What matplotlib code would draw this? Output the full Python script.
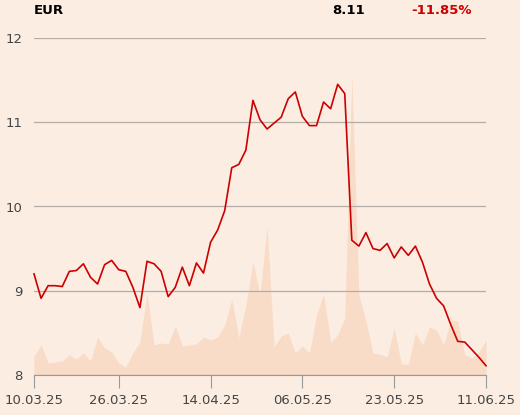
import numpy as np
import pandas as pd
import matplotlib
matplotlib.use('Agg')
import matplotlib.pyplot as plt

### DATA
# Trading days (Xetra calendar, Easter + 1 May closed)
holidays = ['2025-04-18', '2025-04-21', '2025-05-01']
dates = pd.bdate_range('2025-03-10', '2025-06-11')
dates = dates[~dates.isin(pd.to_datetime(holidays))]

price = [
    9.20, 8.91, 9.06, 9.06, 9.05, 9.23, 9.24, 9.32, 9.16, 9.08,
    9.31, 9.36, 9.25, 9.23, 9.04, 8.80, 9.35, 9.32, 9.23, 8.93,
    9.04, 9.28, 9.06, 9.33, 9.21, 9.575, 9.72, 9.95, 10.46, 10.50,
    10.67, 11.26, 11.03, 10.92, 10.99, 11.06, 11.28, 11.36, 11.07, 10.96,
    10.96, 11.24, 11.16, 11.45, 11.34, 9.60, 9.53, 9.69, 9.50, 9.48,
    9.56, 9.39, 9.52, 9.42, 9.53, 9.34, 9.08, 8.91, 8.82, 8.60,
    8.40, 8.39, 8.30, 8.21, 8.11,
]

# Volume (relative units)
volume = [
    19, 30, 12, 13, 14, 20, 16, 22, 14, 38,
    27, 23, 12, 8, 22, 33, 82, 30, 32, 31,
    49, 29, 30, 31, 38, 35, 38, 50, 76, 37,
    70, 113, 80, 149, 28, 39, 42, 22, 29, 22,
    60, 81, 33, 40, 57, 300, 80, 54, 22, 21,
    18, 47, 11, 11, 42, 30, 48, 45, 30, 55,
    54, 20, 17, 23, 35,
]

tick_dates = ['10.03.25', '26.03.25', '14.04.25', '06.05.25', '23.05.25', '11.06.25']
currency = 'EUR'
last_price = '8.11'
change = '-11.85%'

### STYLE
BG = '#fbede2'
VOL_COLOR = '#f8dcc7'
LINE_COLOR = '#cc0000'
GRID_COLOR = '#b3aca7'
TEXT_COLOR = '#444444'

### PLOTTING
fig = plt.figure(figsize=(5.2, 4.15), dpi=100, facecolor=BG)
pos = [34 / 520, 1 - 375 / 415, 452 / 520, 337 / 415]

x = np.arange(len(dates))

# volume behind everything
ax_vol = fig.add_axes(pos)
ax_vol.set_facecolor(BG)
ax_vol.fill_between(x, 0, volume, color=VOL_COLOR, lw=0)
ax_vol.set_xlim(0, len(dates) - 1)
ax_vol.set_ylim(0, 337)
ax_vol.axis('off')

ax = fig.add_axes(pos)
ax.patch.set_alpha(0)
ax.plot(x, price, color=LINE_COLOR, lw=1.2, clip_on=False, zorder=3)
ax.set_xlim(0, len(dates) - 1)
ax.set_ylim(8, 12)
ax.set_yticks([8, 9, 10, 11, 12])
ax.grid(axis='y', color=GRID_COLOR, lw=0.9)
ax.set_axisbelow(True)

labels = dates.strftime('%d.%m.%y').tolist()
ax.set_xticks([labels.index(t) for t in tick_dates])
ax.set_xticklabels(tick_dates)

for side in ['left', 'right', 'top']:
    ax.spines[side].set_visible(False)
ax.spines['bottom'].set_color('#999999')
ax.tick_params(axis='x', length=9, color='#999999', labelsize=9.5,
               labelcolor=TEXT_COLOR, pad=5)
ax.tick_params(axis='y', length=0, labelsize=9.5, labelcolor=TEXT_COLOR, pad=8)

# header
fig.text(34 / 520, 1 - 10 / 415, currency, fontsize=9.5, fontweight='bold',
         color='black', va='center', ha='left')
fig.text(365 / 520, 1 - 11 / 415, last_price, fontsize=9.5, fontweight='bold',
         color='black', va='center', ha='right')
fig.text(472 / 520, 1 - 11 / 415, change, fontsize=9.5, fontweight='bold',
         color=LINE_COLOR, va='center', ha='right')

fig.savefig('out.png', dpi=100, facecolor=BG)
